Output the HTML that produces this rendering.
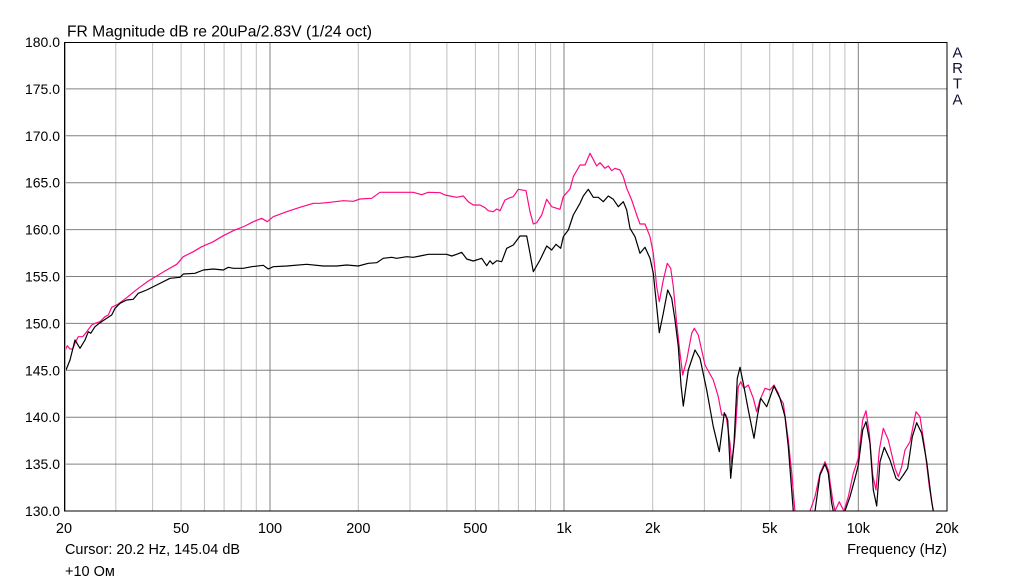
<!DOCTYPE html>
<html><head><meta charset="utf-8"><style>
html,body{margin:0;padding:0;background:#fff;}
svg{display:block;font-family:"Liberation Sans",Arial,sans-serif;}
</style></head><body>
<svg width="1011" height="583" viewBox="0 0 1011 583" xmlns="http://www.w3.org/2000/svg">
<rect width="1011" height="583" fill="#fff"/>
<defs><clipPath id="c"><rect x="64" y="42" width="883" height="469"/></clipPath></defs>
<g stroke="#c0c0c0" stroke-width="1">
<line x1="115.8" y1="42" x2="115.8" y2="511"/><line x1="152.6" y1="42" x2="152.6" y2="511"/><line x1="181.1" y1="42" x2="181.1" y2="511"/><line x1="204.4" y1="42" x2="204.4" y2="511"/><line x1="224.1" y1="42" x2="224.1" y2="511"/><line x1="241.2" y1="42" x2="241.2" y2="511"/><line x1="256.3" y1="42" x2="256.3" y2="511"/>
<line x1="358.3" y1="42" x2="358.3" y2="511"/><line x1="410" y1="42" x2="410" y2="511"/><line x1="446.9" y1="42" x2="446.9" y2="511"/><line x1="475.4" y1="42" x2="475.4" y2="511"/><line x1="498.7" y1="42" x2="498.7" y2="511"/><line x1="518.4" y1="42" x2="518.4" y2="511"/><line x1="535.5" y1="42" x2="535.5" y2="511"/><line x1="550.6" y1="42" x2="550.6" y2="511"/>
<line x1="652.7" y1="42" x2="652.7" y2="511"/><line x1="704.4" y1="42" x2="704.4" y2="511"/><line x1="741.2" y1="42" x2="741.2" y2="511"/><line x1="769.7" y1="42" x2="769.7" y2="511"/><line x1="793" y1="42" x2="793" y2="511"/><line x1="812.7" y1="42" x2="812.7" y2="511"/><line x1="829.8" y1="42" x2="829.8" y2="511"/><line x1="844.9" y1="42" x2="844.9" y2="511"/>
</g>
<g stroke="#808080" stroke-width="1">
<line x1="270" y1="42" x2="270" y2="511"/><line x1="564" y1="42" x2="564" y2="511"/><line x1="858.3" y1="42" x2="858.3" y2="511"/>
<line x1="64" y1="88.9" x2="947" y2="88.9"/><line x1="64" y1="135.8" x2="947" y2="135.8"/><line x1="64" y1="182.7" x2="947" y2="182.7"/><line x1="64" y1="229.6" x2="947" y2="229.6"/><line x1="64" y1="276.5" x2="947" y2="276.5"/><line x1="64" y1="323.4" x2="947" y2="323.4"/><line x1="64" y1="370.3" x2="947" y2="370.3"/><line x1="64" y1="417.2" x2="947" y2="417.2"/><line x1="64" y1="464.1" x2="947" y2="464.1"/>
</g>
<g clip-path="url(#c)" fill="none" stroke-width="1.2" stroke-linejoin="round">
<polyline stroke="#ff0a84" points="64,352.7 67.3,345.7 70,349 72.7,349 75,343 78.3,336.7 82.7,336.7 86.7,331.7 91.7,325 95,323.3 100,321.7 105,316.7 108.3,315 111.7,307.3 118.3,304 126.7,297.7 138.3,288.3 148.3,281 156.7,276 166.7,270 176.7,264.3 183.3,256.7 193.3,251.7 201.7,246.7 213.3,241.7 223.3,235.7 233.3,230.7 245,226 253.3,221.7 261.7,218.3 267.3,221.7 273.3,216.7 286.7,211.7 300,207.3 313.3,203.3 320,203.3 330,202.3 343.3,200.7 353.3,201.3 360,199 371.7,198.3 380,192.3 396.7,192.3 405,192.3 413.3,192.3 421.7,194.7 428.3,192.3 440,192.7 445,195 450,196 456.7,197.3 463.3,196 468.3,201.7 473.3,205 480,205 485,207.7 488.3,210.7 493.3,211.7 496.7,209 500,210.7 505,200 510,197.7 513.3,196.7 518.3,189.3 526,190.7 530,211.7 533.3,224 536.7,222.7 541.7,215 546.7,199.3 551.7,206.7 556.7,208.3 560,209.3 563.3,196.7 570,189 573.3,176.7 580,165 585,165 590,153.3 596.7,166 600,162.7 605,168.3 608.3,166 611.7,170.7 615,168.3 620,170 623.3,176.7 626.7,188.3 631.7,200 636.7,215 640,224 645,224 650,236.7 653.3,253.3 656.7,286.7 659.3,301.7 663.3,280 667.3,263.3 670.7,268.3 673.3,286.7 676.7,323.3 680,353.3 682.7,375 686.7,360 691.7,333.3 694.3,328.3 698.3,335 705,365 713.3,380 718.3,396.7 721.7,415 726,415 730,443.3 731.7,463.3 735,436.7 738.3,386.7 740.7,381.7 744,388.3 748.3,385 753.3,398.3 756.7,411.7 760,400 765,388.3 770,390 774,385 778.3,393.3 780,398.3 783.3,403.3 788.3,440 791.7,473.3 795,512 800,530 808,530 810,511 815,496.7 820,473.3 825,461.7 828.3,470 832.7,500 835,511 839.3,501.7 841.7,506.7 844,511 848.3,496.7 853.3,473.3 858.3,458.3 862.7,420 866,410.7 869.3,433.3 872.7,475 876,490 879.3,450 883.3,428.3 888.3,440 895,468.3 898.3,476.7 901.7,466.7 905,450 910,441.7 916,411.7 920,416.7 925,450 929.3,486.7 933.3,511 936,525"/>
<polyline stroke="#000" points="64,370 66,370 70,360 75,340 80,348.3 85,340 88.3,331.7 90.7,333.3 95,326.7 100,322.7 106.7,318.3 111.7,315 115,308.3 120,303.3 126.7,300 133.3,299.3 138.3,293.3 146.7,290 156.7,285 170,278.3 180,277.3 183.3,274 195,273.3 203.3,270 213.3,269 223.3,270 228.3,267.3 233.3,268.3 243.3,268.3 251.7,266.7 263.3,265.3 268.3,269 273.3,266.7 286.7,266 306.7,264.3 323.3,266 336.7,266 346.7,265 358.3,266 368.3,263.3 376.7,262.7 383.3,258.3 391.7,257.3 396.7,258.3 406.7,256.7 413.3,257.3 420,256 428.3,254.3 446.7,254.3 451.7,256 456.7,254.3 461.7,252.3 466.7,259 473.3,261 481.7,258.3 486.7,265.7 490,260.7 492.7,264 496.7,260.7 501.7,261.7 506.7,248.3 513.3,245 520,236 526.7,236 530,253.3 533.3,271.7 540,260 546.7,246 551.7,250 556,244.3 560.7,248.3 563.3,236.7 568.3,230 573.3,215 580,203.3 583.3,196 588.3,189.3 593.3,197.3 598.3,197.3 603.3,201.7 608.3,196 613.3,199.3 618.3,206.7 623.3,201.7 626.7,210 630,228.3 635,236.7 640,253.3 645,247.3 650,258.3 653.3,273.3 656.7,306.7 659.3,332.7 663.3,313.3 667.7,290 671.7,298.3 675,320 678.3,346.7 681,385 683.3,406 688.3,370 695,350 700,358.3 706.7,390 713.3,426.7 719.3,451.7 724.3,412.7 727.7,420 730.7,478.3 734,443.3 737.3,378.3 740,367.3 743.3,383.3 748.3,410 754,438.3 757.3,416.7 760.7,398.3 766.7,406.7 774,386 780,398.3 785,416.7 788.3,446.7 793.3,511 796,525 812,525 815,511 820,475 825,464 828.3,473.3 831.7,503.3 833.3,511 836,520 842,520 845,511 850,496.7 855,478.3 858.3,465 862.7,430 866,421.7 870,443.3 873.3,490 876.7,506 880,461.7 884.3,447.3 890,460 896,478.3 899.3,480.7 903.3,475 907.7,468.3 912.3,436.7 916.7,422.7 921.7,433.3 926.7,461.7 931.7,501.7 933.3,511 936,525"/>
</g>
<rect x="64.5" y="42.5" width="882.5" height="468.5" fill="none" stroke="#000" stroke-width="1"/>
<line x1="65.5" y1="43" x2="65.5" y2="510.5" stroke="#c8c000" stroke-width="1"/>
<text x="67" y="36.5" font-size="15.6" textLength="305" lengthAdjust="spacingAndGlyphs" fill="#000">FR Magnitude dB re 20uPa/2.83V (1/24 oct)</text>
<g font-size="14" fill="#000" text-anchor="end">
<text x="60" y="47">180.0</text><text x="60" y="93.9">175.0</text><text x="60" y="140.8">170.0</text><text x="60" y="187.7">165.0</text><text x="60" y="234.6">160.0</text><text x="60" y="281.5">155.0</text><text x="60" y="328.4">150.0</text><text x="60" y="375.3">145.0</text><text x="60" y="422.2">140.0</text><text x="60" y="469.1">135.0</text><text x="60" y="516">130.0</text>
</g>
<g font-size="14.5" fill="#000" text-anchor="middle">
<text x="64" y="533">20</text><text x="181.1" y="533">50</text><text x="270" y="533">100</text><text x="358.3" y="533">200</text><text x="475.4" y="533">500</text><text x="564" y="533">1k</text><text x="652.7" y="533">2k</text><text x="769.7" y="533">5k</text><text x="858.3" y="533">10k</text><text x="947" y="533">20k</text>
</g>
<text x="65" y="554" font-size="14.5" textLength="175" lengthAdjust="spacingAndGlyphs" fill="#000">Cursor: 20.2 Hz, 145.04 dB</text>
<text x="65" y="576" font-size="14.5" fill="#000">+10 Ом</text>
<text x="947" y="554" font-size="14.5" text-anchor="end" fill="#000">Frequency (Hz)</text>
<g font-size="15" fill="#101030" text-anchor="middle">
<text x="957.5" y="57.5">A</text><text x="957.5" y="72.8">R</text><text x="957.5" y="88.5">T</text><text x="957.5" y="104.5">A</text>
</g>
</svg>
</body></html>
